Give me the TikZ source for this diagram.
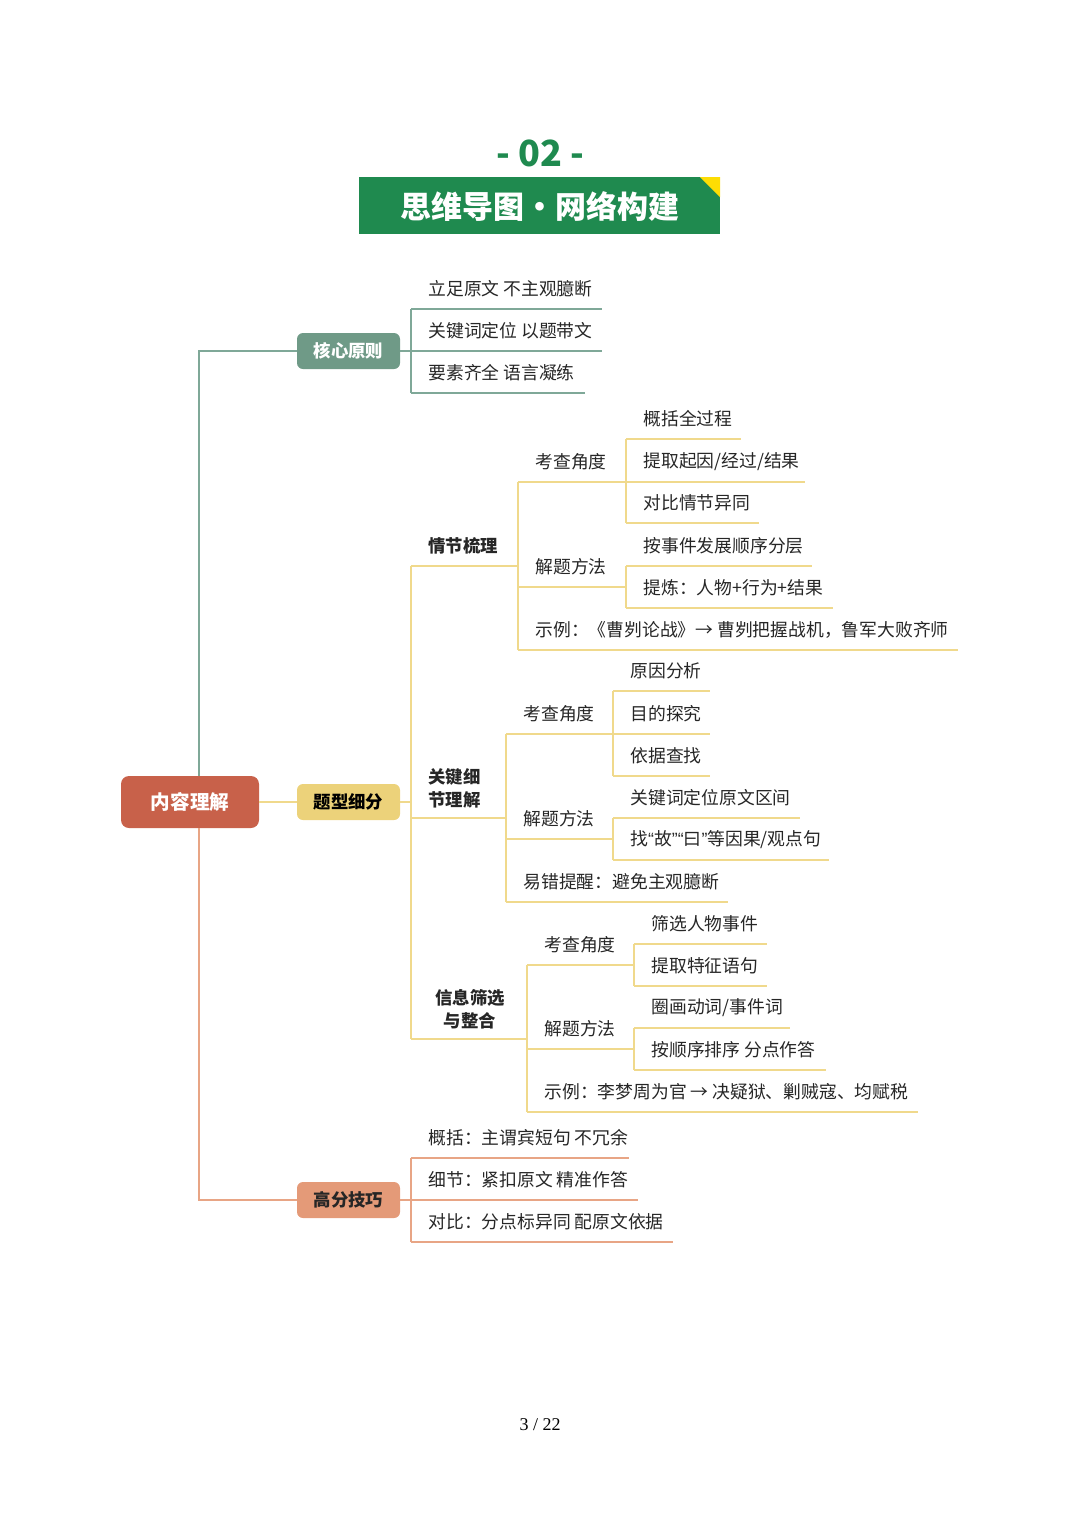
\documentclass[tikz,border=0pt]{standalone}
\usepackage{fontspec}
\setmainfont{Noto Sans CJK SC}
\newfontfamily\footfont{Liberation Serif}
\newfontfamily\qfont{Liberation Sans}
\begin{document}
\begin{tikzpicture}[x=0.5pt,y=-0.5pt]
\definecolor{tealc}{HTML}{6F9A87}
\definecolor{teall}{HTML}{7FA898}
\definecolor{yelc}{HTML}{ECD27A}
\definecolor{yell}{HTML}{F0D98C}
\definecolor{orac}{HTML}{E49A78}
\definecolor{oral}{HTML}{E8A585}
\definecolor{rootc}{HTML}{C8614A}
\definecolor{grn}{HTML}{1F8A4F}
\tikzset{
 txt/.style={anchor=west,inner sep=0pt,font=\fontsize{8.9pt}{10pt}\selectfont,text=black!85},
 btxt/.style={txt,font=\fontsize{8.7pt}{11.5pt}\selectfont\bfseries},
 lvbox/.style={rounded corners=3pt,minimum width=51.5pt,minimum height=18pt,inner sep=0pt,font=\fontsize{8.7pt}{10pt}\selectfont\bfseries},
 tl/.style={draw=teall,line width=1pt},
 yl/.style={draw=yell,line width=1pt},
 ol/.style={draw=oral,line width=1pt},
}
\newcommand\lf[6]{\draw[#5] (#2,#4) -- (#3,#4); \node[txt] (#1) at (#2+17,#4-20) {#6};}
\useasboundingbox (0,0) rectangle (1080,1528);
% header
\node[text=grn,font=\fontsize{18pt}{20pt}\selectfont\bfseries] (num) at (540,153) {- 02 -};
\fill[grn] (359,177) rectangle (720,234);
\fill[yellow!80!orange] (700,177) -- (720,177) -- (720,197) -- cycle;
\node[text=white,font=\fontsize{15.5pt}{18pt}\selectfont\bfseries] (title) at (540,207) {思维导图·网络构建};
% root and level 1
\node[fill=rootc,text=white,rounded corners=4pt,minimum width=69pt,minimum height=26pt,inner sep=0pt,font=\fontsize{9.8pt}{11pt}\selectfont\bfseries] (root) at (190,802) {内容理解};
\node[lvbox,fill=tealc,text=white] (hx) at (348.5,351) {核心原则};
\node[lvbox,fill=yelc,text=black] (tx) at (348.5,802) {题型细分};
\node[lvbox,fill=orac,text=black!85] (gfj) at (348.5,1200) {高分技巧};
\draw[tl] (root.north -| 199,0) -- (199,351) -- (hx.west);
\draw[ol] (root.south -| 199,0) -- (199,1200) -- (gfj.west);
\draw[yl] (root.east) -- (tx.west);
% 核心原则
\draw[tl] (hx.east) -- (411,351); \draw[tl] (411,309) -- (411,393);
\lf{a1}{411}{602}{309}{tl}{立足原文 不主观臆断}
\lf{a2}{411}{602}{351}{tl}{关键词定位 以题带文}
\lf{a3}{411}{585}{393}{tl}{要素齐全 语言凝练}
% 题型细分
\draw[yl] (tx.east) -- (411,802); \draw[yl] (411,566) -- (411,1039);
% 情节梳理
\draw[yl] (411,566) -- (518,566); \node[btxt] (qj) at (428,546) {情节梳理};
\draw[yl] (518,482) -- (518,650);
\lf{qk}{518}{626}{482}{yl}{考查角度}
\draw[yl] (626,439) -- (626,523);
\lf{qk1}{626}{741}{439}{yl}{概括全过程}
\lf{qk2}{626}{805}{482}{yl}{提取起因/经过/结果}
\lf{qk3}{626}{759}{523}{yl}{对比情节异同}
\lf{qf}{518}{626}{587}{yl}{解题方法}
\draw[yl] (626,566) -- (626,608);
\lf{qf1}{626}{812}{566}{yl}{按事件发展顺序分层}
\lf{qf2}{626}{833}{608}{yl}{提炼：人物+行为+结果}
\lf{qe}{518}{958}{650}{yl}{示例：《曹刿论战》→ 曹刿把握战机，鲁军大败齐师}
% 关键细节理解
\draw[yl] (411,818) -- (506,818); \node[btxt,align=left] (gj) at (428,788) {关键细\\节理解};
\draw[yl] (506,734) -- (506,902);
\lf{gk}{506}{613}{734}{yl}{考查角度}
\draw[yl] (613,691) -- (613,776);
\lf{gk1}{613}{710}{691}{yl}{原因分析}
\lf{gk2}{613}{710}{734}{yl}{目的探究}
\lf{gk3}{613}{710}{776}{yl}{依据查找}
\lf{gf}{506}{613}{839}{yl}{解题方法}
\draw[yl] (613,818) -- (613,860);
\lf{gf1}{613}{800}{818}{yl}{关键词定位原文区间}
\lf{gf2}{613}{829}{860}{yl}{找{\qfont“}故{\qfont”“}曰{\qfont”}等因果/观点句}
\lf{ge}{506}{728}{902}{yl}{易错提醒：避免主观臆断}
% 信息筛选与整合
\draw[yl] (411,1039) -- (527,1039); \node[btxt,align=center,anchor=center] (xx) at (470,1009) {信息筛选\\与整合};
\draw[yl] (527,965) -- (527,1112);
\lf{xk}{527}{634}{965}{yl}{考查角度}
\draw[yl] (634,944) -- (634,986);
\lf{xk1}{634}{767}{944}{yl}{筛选人物事件}
\lf{xk2}{634}{767}{986}{yl}{提取特征语句}
\lf{xf}{527}{634}{1049}{yl}{解题方法}
\draw[yl] (634,1028) -- (634,1070);
\lf{xf1}{634}{790}{1028}{yl}{圈画动词/事件词}
\lf{xf2}{634}{826}{1070}{yl}{按顺序排序 分点作答}
\lf{xe}{527}{918}{1112}{yl}{示例：李梦周为官 → 决疑狱、剿贼寇、均赋税}
% 高分技巧
\draw[ol] (gfj.east) -- (411,1200); \draw[ol] (411,1158) -- (411,1242);
\lf{c1}{411}{629}{1158}{ol}{概括：主谓宾短句 不冗余}
\lf{c2}{411}{638}{1200}{ol}{细节：紧扣原文 精准作答}
\lf{c3}{411}{673}{1242}{ol}{对比：分点标异同 配原文依据}
% footer
\node[font=\footfont\fontsize{9pt}{10pt}\selectfont] (pg) at (540,1425) {3 / 22};
\end{tikzpicture}
\end{document}
